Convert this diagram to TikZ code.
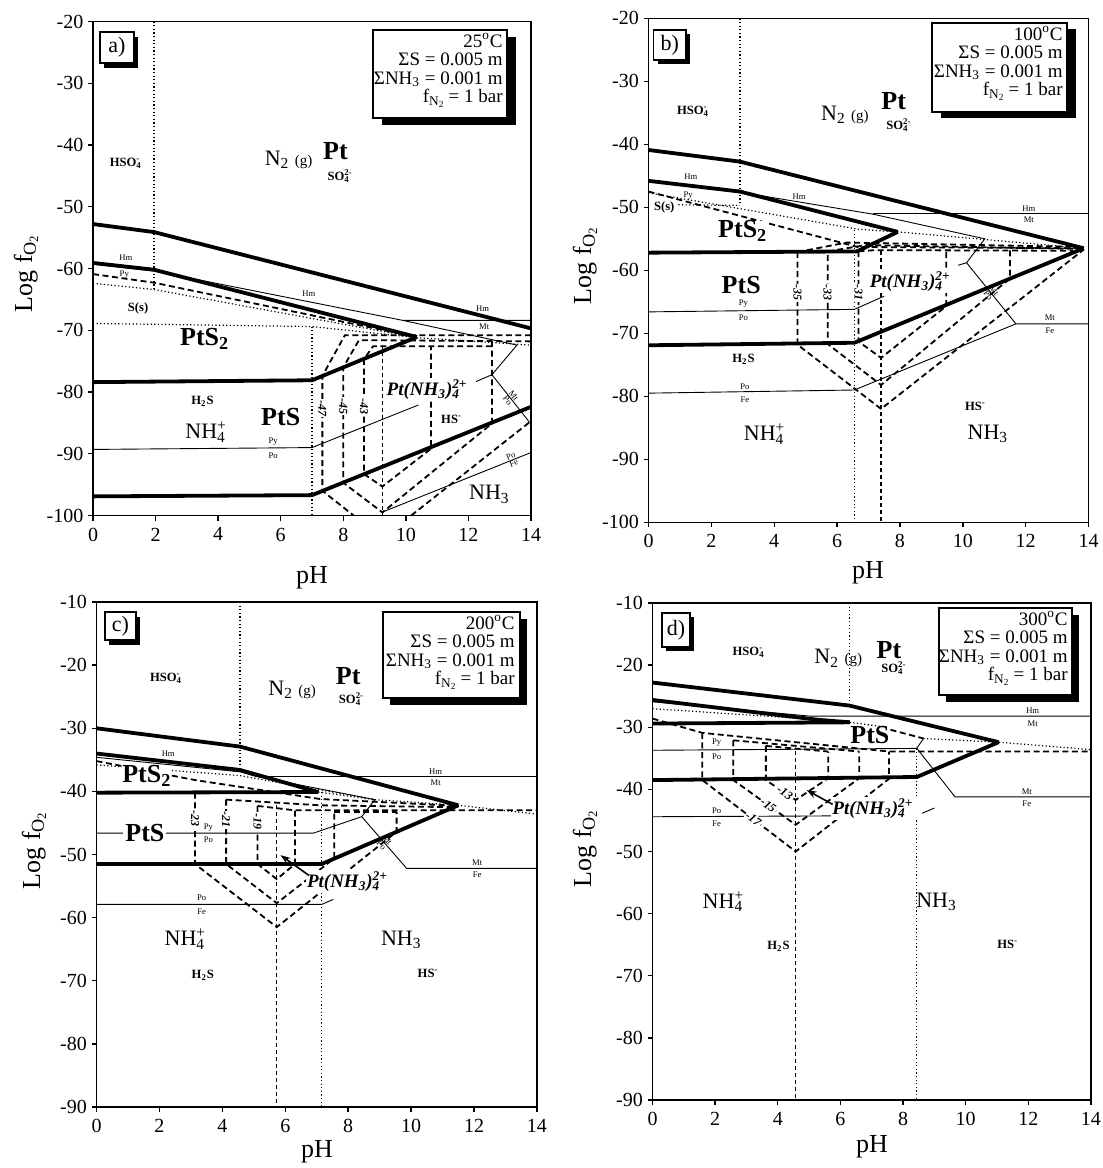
\documentclass[tikz,border=0pt]{standalone}
\usepackage{fontspec}
\setmainfont{Liberation Serif}
\usetikzlibrary{arrows.meta}
\newcommand{\chemion}[3]{#1\rlap{\textsuperscript{#3}}\textsubscript{#2}}
\newcommand{\ptamine}{Pt(NH\textsubscript{3})\rlap{\textsuperscript{2+}}\textsubscript{4}\hphantom{\textsuperscript{2+}}}
\newcommand{\ntwo}{N\textsubscript{2} {\fontsize{7.5}{8}\selectfont (g)}}
\newcommand{\infotext}[1]{#1\textsuperscript{o}C\\ΣS = 0.005 m\\ΣNH\textsubscript{3} = 0.001 m\\f\textsubscript{N\textsubscript{2}}\,= 1 bar}
\newcommand{\logfo}{Log f\textsubscript{O\textsubscript{2}}}
\tikzset{
  frm/.style={line width=0.7pt},
  thk/.style={line width=1.9pt, line join=round},
  thn/.style={line width=0.45pt},
  dsh/.style={line width=0.9pt, dash pattern=on 3pt off 1.8pt},
  dsf/.style={line width=0.6pt, dash pattern=on 2pt off 1.5pt},
  dot/.style={line width=0.6pt, dash pattern=on 0.6pt off 1.2pt},
  tick/.style={font=\fontsize{10}{11}\selectfont, inner sep=1pt},
  axl/.style={font=\fontsize{13}{14}\selectfont, inner sep=0pt},
  big/.style={font=\fontsize{13}{14}\selectfont\bfseries, inner sep=0.5pt},
  ion/.style={font=\fontsize{11}{12}\selectfont, inner sep=0.5pt},
  spc/.style={font=\fontsize{6.3}{7}\selectfont\bfseries, inner sep=0.5pt},
  tn/.style={font=\fontsize{4.3}{5}\selectfont, inner sep=0.3pt},
  iso/.style={font=\fontsize{6}{7}\selectfont\bfseries\itshape, fill=white, inner sep=0.6pt},
  cmx/.style={font=\fontsize{9.5}{10}\selectfont\bfseries\itshape, fill=white, inner sep=0.5pt},
  n2/.style={font=\fontsize{11}{12}\selectfont, inner sep=0.5pt},
  info/.style={font=\fontsize{9.5}{9.2}\selectfont, align=right, inner sep=0pt},
  lbl/.style={font=\fontsize{11}{12}\selectfont, inner sep=0pt},
  box/.style={draw, line width=0.6pt, fill=white},
  arr/.style={line width=0.8pt, -{Stealth[length=5pt,width=3.5pt]}},
}
\begin{document}
\begin{tikzpicture}[x=0.5pt,y=-0.5pt]
\useasboundingbox (0,0) rectangle (1103,1168);
% ---------- axis titles ----------
\node[axl,rotate=90] (la) at (26,273) {\logfo};
\node[axl,rotate=90] (lb) at (585,265) {\logfo};
\node[axl,rotate=90] (lc) at (34,850) {\logfo};
\node[axl,rotate=90] (ld) at (585,848) {\logfo};
\node[axl] (pa) at (312,578) {pH};
\node[axl] (pb) at (868,573) {pH};
\node[axl] (pc) at (317,1152) {pH};
\node[axl] (pd) at (872,1147) {pH};

% ================= PANEL A =================
\begin{scope}[shift={(93,-102)}, x=15.645pt, y=3.0875pt]
 \draw[frm] (0,-100) rectangle (14,-20);
 \foreach \p in {0,2,...,14} \draw[frm] (\p,-100) -- ++(0pt,-2.5pt) node[below=2.3pt,tick] (ax\p) {\p};
 \foreach \l in {-20,-30,...,-100} \draw[frm] (0,\l) -- ++(-2.5pt,0pt) node[left=1pt,tick] (ay\l) {\l};
 % dotted
 \draw[dot] (1.95,-20) -- (1.95,-63.5);
 \draw[dot] (7,-69.4) -- (7,-100);
 \draw[dot] (0,-68.9) -- (7,-69.4) -- (10.35,-71.2) -- (14,-72.4);
 \draw[dot] (0,-62.4) -- (1.95,-63.4) -- (10.35,-71.2);
 % dashed
 \draw[dsh] (0,-60.9) -- (1.95,-62.3) -- (10.35,-71.1);
 \draw[dsf] (9.25,-72.4) -- (9.25,-100);
 \draw[dsh] (14,-70.8) -- (8.05,-70.8) -- (7.33,-77.4) -- (7.33,-96.0) -- (8.33,-100);
 \draw[dsh] (10.17,-100) -- (14,-84.7);
 \draw[dsh] (14,-71.8) -- (8.5,-71.6) -- (8.0,-76.0) -- (8.0,-94.7) -- (9.25,-99.5) -- (12.75,-85.1) -- (12.75,-71.8);
 \draw[dsh] (12.75,-72.6) -- (8.95,-72.6) -- (8.66,-74.7) -- (8.66,-93.3) -- (9.25,-95.3) -- (10.8,-89.2) -- (10.8,-72.6);
 % thin
 \draw[thn] (0,-59.3) -- (1.95,-60.4) -- (9.9,-68.4) -- (14,-68.4);
 \draw[thn] (9.9,-68.4) -- (13.55,-72.4) -- (12.75,-77.2) -- (13.95,-84.9);
 \draw[thn] (0,-89.3) -- (7,-89) -- (10.4,-82.1);
 \draw[thn] (12.2,-78.4) -- (12.75,-77.2);
 \draw[thn] (9.27,-99.4) -- (14,-89.8);
 % thick
 \draw[thk] (0,-52.8) -- (1.95,-54.1) -- (14,-69.7);
 \draw[thk] (0,-59.1) -- (1.95,-60.2) -- (10.35,-71.1);
 \draw[thk] (0,-78.4) -- (7,-78.1) -- (10.35,-71.1);
 \draw[thk] (0,-96.9) -- (7,-96.7) -- (14,-82.4);
 % labels
 \node[spc] (a-hso4) at (1.05,-43) {\chemion{HSO}{4}{-}};
 \node[n2] (a-n2) at (6.25,-42.4) {\ntwo};
 \node[big] (a-pt) at (7.75,-41.0) {Pt};
 \node[spc] (a-so4) at (7.85,-45.0) {\chemion{SO}{4}{2-}};
 \node[tn] (a-hm1) at (1.05,-58.2) {Hm};
 \node[tn] (a-py1) at (1.0,-61.0) {Py};
 \node[spc] (a-s) at (1.44,-66.5) {S(s)};
 \node[big] (a-pts2) at (3.57,-71.4) {PtS\textsubscript{2}};
 \node[tn] (a-hm2) at (6.9,-64.1) {Hm};
 \node[tn] (a-hm3) at (12.45,-66.5) {Hm};
 \node[tn] (a-mt1) at (12.5,-69.5) {Mt};
 \node[spc] (a-h2s) at (3.5,-81.5) {H\textsubscript{2}S};
 \node[ion] (a-nh4) at (3.6,-86.5) {\chemion{NH}{4}{+}};
 \node[big] (a-pts) at (6.0,-84.0) {PtS};
 \node[tn] (a-py2) at (5.76,-88.0) {Py};
 \node[tn] (a-po2) at (5.76,-90.3) {Po};
 \node[iso,rotate=-90] (a-i47) at (7.33,-82.6) {-47};
 \node[iso,rotate=-90] (a-i45) at (8.0,-82.3) {-45};
 \node[iso,rotate=-90] (a-i43) at (8.66,-82.3) {-43};
 \node[cmx] (a-cmx) at (10.8,-79.6) {\ptamine};
 \node[spc] (a-hs) at (11.46,-84.5) {HS\textsuperscript{-}};
 \node[ion] (a-nh3) at (12.67,-96.6) {NH\textsubscript{3}};
 \coordinate (a-m1) at (13.35,-81.05);
 \node[tn,rotate=-52,anchor=south] (a-mt2) at (a-m1) {Mt};
 \node[tn,rotate=-52,anchor=north] (a-po3) at (a-m1) {Po};
 \coordinate (a-m2) at (13.4,-91.0);
 \node[tn,rotate=22,anchor=south] (a-po4) at (a-m2) {Po};
 \node[tn,rotate=22,anchor=north] (a-fe1) at (a-m2) {Fe};
\end{scope}
\fill (104,37) rectangle (138,68);
\draw[box] (100,32) rectangle (134,63);
\node[lbl] (a-tag) at (117,47.5) {a)};
\fill (382,37) rectangle (516,125);
\draw[box] (373,30) rectangle (507,118);
\node[info,anchor=north east] (a-info) at (503,33) {\infotext{25}};

% ================= PANEL B =================
\begin{scope}[shift={(648.5,-107.7)}, x=15.715pt, y=3.15pt]
 \draw[frm] (0,-100) rectangle (14,-20);
 \foreach \p in {0,2,...,14} \draw[frm] (\p,-100) -- ++(0pt,-2.5pt) node[below=2.3pt,tick] (bx\p) {\p};
 \foreach \l in {-20,-30,...,-100} \draw[frm] (0,\l) -- ++(-2.5pt,0pt) node[left=1pt,tick] (by\l) {\l};
 % dotted
 \draw[dot] (2.91,-20) -- (2.91,-49.7);
 \draw[dot] (6.55,-53.6) -- (6.55,-100);
 \draw[dot] (0,-47.7) -- (6.7,-53.5) -- (7.93,-53.9) -- (13.85,-56.5);
 \draw[dot] (0.95,-49.6) -- (2.91,-49.7);
 % dashed
 \draw[dsh] (0,-47.5) -- (6.65,-56.3) -- (13.85,-56.5);
 \draw[dsf] (7.4,-57.0) -- (7.4,-100);
 \draw[dsh] (4.74,-57.1) -- (6.3,-55.6) -- (13.85,-56.3);
 \draw[dsh] (4.74,-57.1) -- (4.74,-71.8) -- (7.4,-82.0) -- (13.85,-56.7);
 \draw[dsh] (5.7,-57.0) -- (6.9,-56.0) -- (13.6,-56.6);
 \draw[dsh] (11.5,-56.85) -- (11.5,-61.3) -- (7.4,-78.2) -- (5.7,-71.7) -- (5.7,-57.0);
 \draw[dsh] (6.68,-57.0) -- (7.2,-56.8) -- (13.5,-56.9);
 \draw[dsh] (9.47,-57.1) -- (9.47,-65.7) -- (7.4,-73.9) -- (6.68,-71.3) -- (6.68,-57.0);
 % thin
 \draw[thn] (0,-45.9) -- (2.91,-47.6) -- (7.15,-51.1) -- (10.7,-55.0) -- (10.12,-58.8) -- (11.69,-68.5) -- (14,-68.5);
 \draw[thn] (7.15,-51.0) -- (14,-51.0);
 \draw[thn] (0,-66.6) -- (6.55,-66.2) -- (7.5,-64.1);
 \draw[thn] (9.85,-59.2) -- (10.12,-58.8);
 \draw[thn] (0,-79.5) -- (6.55,-79.0) -- (11.69,-68.5);
 % label that masks the dashed line
 \node[big,fill=white,inner sep=0pt] (b-pts2) at (3.0,-53.8) {PtS\textsubscript{2}};
 % thick
 \draw[thk] (0,-40.9) -- (2.91,-42.75) -- (13.85,-56.5);
 \draw[thk] (0,-45.8) -- (2.91,-47.5) -- (7.93,-53.9);
 \draw[thk] (0,-57.2) -- (6.63,-57.0) -- (7.93,-53.9);
 \draw[thk] (0,-71.9) -- (6.55,-71.5) -- (13.85,-56.5);
 % labels
 \node[spc] (b-hso4) at (1.42,-34.8) {\chemion{HSO}{4}{-}};
 \node[n2] (b-n2) at (6.25,-35.3) {\ntwo};
 \node[big] (b-pt) at (7.8,-33.2) {Pt};
 \node[spc] (b-so4) at (7.92,-36.9) {\chemion{SO}{4}{2-}};
 \node[tn] (b-hm1) at (1.35,-45.2) {Hm};
 \node[tn] (b-py1) at (1.26,-48.1) {Py};
 \node[spc] (b-s) at (0.5,-50.0) {S(s)};
 \node[tn] (b-hm2) at (4.79,-48.3) {Hm};
 \node[tn] (b-hm3) at (12.1,-50.2) {Hm};
 \node[tn] (b-mt1) at (12.1,-52.0) {Mt};
 \node[big] (b-pts) at (2.95,-62.4) {PtS};
 \node[iso,rotate=-90] (b-i35) at (4.74,-63.6) {-35};
 \node[iso,rotate=-90] (b-i33) at (5.7,-63.6) {-33};
 \node[iso,rotate=-90] (b-i31) at (6.68,-63.6) {-31};
 \node[tn] (b-py2) at (3.02,-65.3) {Py};
 \node[tn] (b-po2) at (3.02,-67.5) {Po};
 \node[cmx] (b-cmx) at (8.45,-61.8) {\ptamine};
 \coordinate (b-m1) at (10.9,-63.65);
 \node[tn,rotate=-51,anchor=south] (b-mt2) at (b-m1) {Mt};
 \node[tn,rotate=-51,anchor=north] (b-po3) at (b-m1) {Po};
 \node[tn] (b-mt3) at (12.77,-67.6) {Mt};
 \node[tn] (b-fe1) at (12.77,-69.6) {Fe};
 \node[spc] (b-h2s) at (3.02,-74.2) {H\textsubscript{2}S};
 \node[tn] (b-po4) at (3.07,-78.4) {Po};
 \node[tn] (b-fe2) at (3.07,-80.5) {Fe};
 \node[ion] (b-nh4) at (3.68,-86.0) {\chemion{NH}{4}{+}};
 \node[spc] (b-hs) at (10.4,-81.6) {HS\textsuperscript{-}};
 \node[ion] (b-nh3) at (10.8,-86.0) {NH\textsubscript{3}};
\end{scope}
\fill (657.5,34) rectangle (690,64);
\draw[box] (653.5,30) rectangle (686,60);
\node[lbl] (b-tag) at (669.7,45) {b)};
\fill (941,29) rectangle (1076,118);
\draw[box] (932,23) rectangle (1067,112);
\node[info,anchor=north east] (b-info) at (1063,26) {\infotext{100}};

% ================= PANEL C =================
\begin{scope}[shift={(96.5,538.9)}, x=15.73pt, y=3.15625pt]
 \draw[frm] (0,-90) rectangle (14,-10);
 \foreach \p in {0,2,...,14} \draw[frm] (\p,-90) -- ++(0pt,-2.5pt) node[below=2.3pt,tick] (cx\p) {\p};
 \foreach \l in {-10,-20,...,-90} \draw[frm] (0,\l) -- ++(-2.5pt,0pt) node[left=1pt,tick] (cy\l) {\l};
 % dotted
 \draw[dot] (4.56,-10) -- (4.56,-36.6);
 \draw[dot] (7.16,-40.1) -- (7.16,-90);
 \draw[dot] (0,-35.8) -- (4.56,-37.5) -- (8.85,-41.3) -- (11.5,-42.2) -- (14,-43.6);
 \draw[dot] (7.05,-40.1) -- (8.85,-41.3);
 % dashed
 \draw[dsh] (0,-35.2) -- (3.13,-38.2) -- (7.1,-41.2) -- (11.5,-42.3);
 \draw[dsf] (5.73,-42.2) -- (5.73,-90);
 \draw[dsh] (3.13,-40.2) -- (3.13,-51.5) -- (5.73,-61.5) -- (9.54,-46.4) -- (9.54,-43.3);
 \draw[dsh] (4.12,-41.3) -- (7.1,-42.2) -- (11.4,-42.5);
 \draw[dsh] (4.12,-41.3) -- (4.12,-51.5) -- (5.73,-57.7) -- (7.56,-50.6) -- (7.56,-43.3);
 \draw[dsh] (5.12,-42.3) -- (6.31,-43.0) -- (14,-43.0);
 \draw[dsh] (5.12,-42.3) -- (5.12,-51.5) -- (5.73,-53.9) -- (6.31,-51.5) -- (6.31,-43.0);
 \draw[dsh] (7.56,-43.3) -- (9.54,-43.3);
 % thin
 \draw[thn] (0,-34.6) -- (4.56,-36.9) -- (5.04,-37.6) -- (8.85,-41.3) -- (8.43,-44.0) -- (9.86,-52.2) -- (14,-52.2);
 \draw[thn] (5.04,-37.6) -- (14,-37.6);
 \draw[thn] (0,-46.6) -- (6.9,-46.6) -- (8.43,-44.0);
 \draw[thn] (0,-57.9) -- (7.16,-57.9) -- (7.53,-57.1);
 % labels that mask lines
 \node[big,fill=white,inner sep=0pt] (c-pts2) at (1.6,-37.6) {PtS\textsubscript{2}};
 \node[big,fill=white,inner sep=1pt] (c-pts) at (1.54,-46.6) {PtS};
 % thick
 \draw[thk] (0,-30.0) -- (4.56,-32.9) -- (11.5,-42.2);
 \draw[thk] (0,-34.0) -- (4.56,-36.6) -- (7.05,-40.1);
 \draw[thk] (0,-40.2) -- (7.05,-40.1);
 \draw[thk] (0,-51.5) -- (7.16,-51.5) -- (11.5,-42.2);
 % labels
 \node[spc] (c-hso4) at (2.21,-22.1) {\chemion{HSO}{4}{-}};
 \node[n2] (c-n2) at (6.22,-23.9) {\ntwo};
 \node[big] (c-pt) at (8.0,-21.8) {Pt};
 \node[spc] (c-so4) at (8.06,-25.4) {\chemion{SO}{4}{2-}};
 \node[tn] (c-hm1) at (2.28,-34.0) {Hm};
 \node[tn] (c-hm2) at (10.78,-36.8) {Hm};
 \node[tn] (c-mt1) at (10.78,-38.6) {Mt};
 \node[iso,rotate=-90] (c-i23) at (3.13,-44.3) {-23};
 \node[iso,rotate=-90] (c-i21) at (4.12,-44.5) {-21};
 \node[iso,rotate=-90] (c-i19) at (5.12,-44.8) {-19};
 \node[tn] (c-py) at (3.56,-45.7) {Py};
 \node[tn] (c-po) at (3.56,-47.7) {Po};
 \coordinate (c-m1) at (9.15,-48.1);
 \node[tn,rotate=-49,anchor=south] (c-mt2) at (c-m1) {Mt};
 \node[tn,rotate=-49,anchor=north] (c-po3) at (c-m1) {Po};
 \node[tn] (c-mt3) at (12.1,-51.3) {Mt};
 \node[tn] (c-fe1) at (12.1,-53.2) {Fe};
 \node[cmx] (c-cmx) at (8.1,-54.3) {\ptamine};
 \coordinate (c-at) at (5.85,-50.1);
 \coordinate (c-af) at (6.75,-53.3);
 \draw[arr] (c-af) -- (c-at);
 \node[tn] (c-po2) at (3.34,-56.9) {Po};
 \node[tn] (c-fe2) at (3.34,-59.0) {Fe};
 \node[ion] (c-nh4) at (2.81,-63.4) {\chemion{NH}{4}{+}};
 \node[ion] (c-nh3) at (9.69,-63.5) {NH\textsubscript{3}};
 \node[spc] (c-h2s) at (3.38,-69.1) {H\textsubscript{2}S};
 \node[spc] (c-hs) at (10.54,-68.8) {HS\textsuperscript{-}};
\end{scope}
\fill (109,617) rectangle (140,645);
\draw[box] (105,612) rectangle (136,640);
\node[lbl] (c-tag) at (120.5,626) {c)};
\fill (390,619) rectangle (527,705);
\draw[box] (383,612) rectangle (520,698);
\node[info,anchor=north east] (c-info) at (515,615) {\infotext{200}};

% ================= PANEL D =================
\begin{scope}[shift={(652.5,540.9)}, x=15.66pt, y=3.10625pt]
 \draw[frm] (0,-90) rectangle (14,-10);
 \foreach \p in {0,2,...,14} \draw[frm] (\p,-90) -- ++(0pt,-2.5pt) node[below=2.3pt,tick] (dx\p) {\p};
 \foreach \l in {-10,-20,...,-90} \draw[frm] (0,\l) -- ++(-2.5pt,0pt) node[left=1pt,tick] (dy\l) {\l};
 % dotted
 \draw[dot] (6.28,-10) -- (6.28,-26.5);
 \draw[dot] (8.44,-33.4) -- (8.44,-90);
 \draw[dot] (0,-27.0) -- (6.3,-29.1);
 \draw[dot] (8.65,-31.8) -- (11.05,-32.4) -- (14,-33.6);
 \draw[dot] (6.3,-29.2) -- (7.5,-30.0);
 % dashed
 \draw[dsf] (4.57,-33.8) -- (4.57,-90);
 \draw[dsh] (0,-28.6) -- (1.59,-30.9) -- (7.55,-33.9) -- (14,-33.9);
 \draw[dsh] (1.59,-30.9) -- (1.59,-38.5) -- (4.57,-50.0) -- (7.55,-38.3) -- (7.55,-33.9);
 \draw[dsh] (2.58,-32.1) -- (6.6,-33.9);
 \draw[dsh] (2.58,-32.1) -- (2.58,-38.5) -- (4.57,-45.7) -- (6.6,-38.2) -- (6.6,-33.9);
 \draw[dsh] (3.62,-33.0) -- (5.61,-33.9);
 \draw[dsh] (3.62,-33.0) -- (3.62,-38.5) -- (4.57,-41.7) -- (5.61,-38.2) -- (5.61,-33.9);
 \draw[dsh] (7.6,-30.4) -- (8.65,-31.8);
 % thin
 \draw[thn] (0,-25.9) -- (5.03,-28.2) -- (14,-28.2);
 \draw[thn] (0,-33.7) -- (8.44,-33.4) -- (8.65,-31.8);
 \draw[thn] (8.44,-33.4) -- (9.66,-41.2) -- (14,-41.2);
 \draw[thn] (0,-44.4) -- (8.44,-44.2) -- (9.0,-43.0);
 % thick
 \draw[thk] (0,-22.8) -- (6.28,-26.5) -- (11.05,-32.4);
 \draw[thk] (0,-25.6) -- (5.3,-28.8) -- (6.3,-29.2);
 \draw[thk] (0,-29.4) -- (6.3,-29.2);
 \draw[thk] (0,-38.5) -- (8.44,-38.0) -- (11.05,-32.4);
 % labels
 \node[spc] (d-hso4) at (3.07,-18.0) {\chemion{HSO}{4}{-}};
 \node[n2] (d-n2) at (5.93,-18.9) {\ntwo};
 \node[big] (d-pt) at (7.55,-17.6) {Pt};
 \node[spc] (d-so4) at (7.66,-20.5) {\chemion{SO}{4}{2-}};
 \node[big] (d-pts) at (6.94,-31.2) {PtS};
 \node[tn] (d-hm) at (12.14,-27.4) {Hm};
 \node[tn] (d-mt1) at (12.14,-29.4) {Mt};
 \node[tn] (d-py) at (2.05,-32.5) {Py};
 \node[tn] (d-po) at (2.05,-34.7) {Po};
 \node[iso,rotate=-34] (d-i13) at (4.23,-40.55) {-13};
 \node[iso,rotate=-36] (d-i15) at (3.7,-42.55) {-15};
 \node[iso,rotate=-37] (d-i17) at (3.22,-44.8) {-17};
 \node[cmx] (d-cmx) at (7.16,-43.1) {\ptamine};
 \coordinate (d-at) at (4.92,-40.1);
 \coordinate (d-af) at (5.75,-42.4);
 \draw[arr] (d-af) -- (d-at);
 \node[tn] (d-po2) at (2.05,-43.4) {Po};
 \node[tn] (d-fe) at (2.05,-45.5) {Fe};
 \node[tn] (d-mt2) at (11.95,-40.3) {Mt};
 \node[tn] (d-fe2) at (11.95,-42.3) {Fe};
 \node[ion] (d-nh4) at (2.25,-58.1) {\chemion{NH}{4}{+}};
 \node[ion] (d-nh3) at (9.07,-58.1) {NH\textsubscript{3}};
 \node[spc] (d-h2s) at (4.02,-65.2) {H\textsubscript{2}S};
 \node[spc] (d-hs) at (11.34,-65.0) {HS\textsuperscript{-}};
\end{scope}
\fill (666,617) rectangle (694,651);
\draw[box] (662,613) rectangle (690,647);
\node[lbl] (d-tag) at (676,630) {d)};
\fill (946,615) rectangle (1079,702);
\draw[box] (939,608) rectangle (1072,695);
\node[info,anchor=north east] (d-info) at (1068,611) {\infotext{300}};
\end{tikzpicture}
\end{document}
